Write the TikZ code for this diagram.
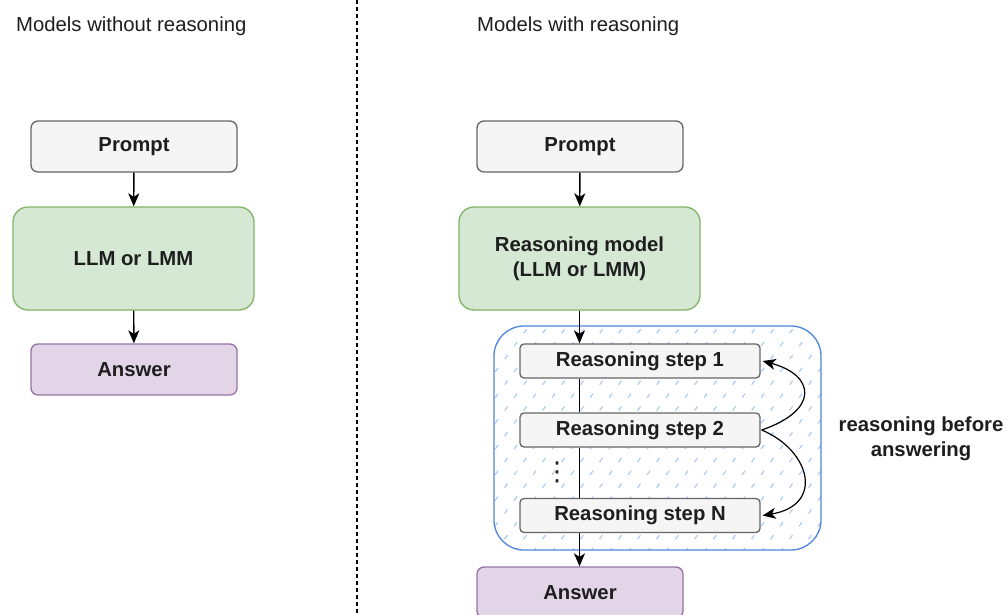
\documentclass[tikz,border=0pt]{standalone}
\usepackage{fontspec}
\setmainfont{Liberation Sans}
\newfontfamily\dejavu{DejaVu Sans}
\usetikzlibrary{arrows.meta}
\definecolor{grayfill}{HTML}{F5F5F5}
\definecolor{graydraw}{HTML}{666666}
\definecolor{greenfill}{HTML}{D5E8D4}
\definecolor{greendraw}{HTML}{82B366}
\definecolor{purplefill}{HTML}{E1D5E7}
\definecolor{purpledraw}{HTML}{9673A6}
\definecolor{bluedraw}{HTML}{4D86DC}
\definecolor{hatchblue}{HTML}{A9C8F2}
\definecolor{txt}{HTML}{1E1E1E}
\tikzset{
  base/.style={font=\fontsize{20.3}{25}\selectfont\bfseries, text=txt, line width=1.3pt, align=center, inner sep=0pt},
  graybox/.style={base, fill=grayfill, draw=graydraw, rounded corners=7pt, minimum width=206pt, minimum height=51pt},
  greenbox/.style={base, fill=greenfill, draw=greendraw, rounded corners=15pt, minimum width=241pt, minimum height=103pt},
  purplebox/.style={base, fill=purplefill, draw=purpledraw, rounded corners=7pt, minimum width=206pt, minimum height=51pt},
  stepbox/.style={base, fill=grayfill, draw=graydraw, rounded corners=4pt, minimum width=240pt, minimum height=34pt},
  title/.style={font=\fontsize{20.3}{25}\selectfont, text=txt, inner sep=0pt, anchor=west},
  conn/.style={line width=1.4pt, black},
  arr/.style={conn, -{Stealth[length=13pt,width=11pt,inset=3.5pt]}},
}
\begin{document}
\begin{tikzpicture}[x=1pt,y=1pt]
\useasboundingbox (0,0) rectangle (1007,-614);
\fill[white] (0,0) rectangle (1007,-614);

% titles
\node[title] (t1) at (16,-26) {Models without reasoning};
\node[title] (t2) at (477,-26) {Models with reasoning};

% divider
\coordinate (dtop) at (357,0);
\coordinate (dbot) at (357,-614);
\draw[line width=1.6pt, dash pattern=on 4pt off 3pt] (dtop) -- (dbot);

% left column
\node[graybox] (lp) at (134,-146.5) {Prompt};
\node[greenbox] (lm) at (133.5,-258.5) {LLM or LMM};
\node[purplebox] (la) at (134,-369.5) {Answer};
\draw[arr] (lp) -- (lm);
\draw[arr] (lm) -- (la);

% right column
\node[graybox] (rp) at (580,-146.5) {Prompt};
\node[greenbox] (rm) at (579.5,-258.5) {Reasoning model\\(LLM or LMM)};
\draw[arr] (rp) -- (rm);

% container with hatch
\begin{scope}
  \clip[rounded corners=30pt] (494,-326) rectangle (821,-550);
  \fill[white] (494,-326) rectangle (821,-550);
  \foreach \i in {0,19,...,600} {
    \draw[hatchblue, line width=1.1pt, dash pattern=on 5pt off 11pt] (494-170+\i,-552) -- (494+\i,-322);
  }
\end{scope}
\node[draw=bluedraw, line width=1.3pt, rounded corners=30pt, minimum width=327pt, minimum height=224pt, inner sep=0pt] (cont) at (657.5,-438) {};

\node[stepbox] (s1) at (640,-361) {Reasoning step 1};
\node[stepbox] (s2) at (640,-430) {Reasoning step 2};
\node[stepbox] (sn) at (640,-515.5) {Reasoning step N};
\node[font=\fontsize{26}{26}\selectfont\dejavu, text=txt, inner sep=0pt] (dots) at (557,-472) {⋮};

\node[purplebox] (ra) at (580,-592.5) {Answer};

\draw[arr] (rm.south) -- (rm.south |- s1.north);
\draw[conn] (rm.south |- s1.south) -- (rm.south |- s2.north);
\draw[conn] (rm.south |- s2.south) -- (rm.south |- sn.north);
\draw[arr] (rm.south |- sn.south) -- (rm.south |- ra.north);

% loop arrows
\draw[arr, line width=1.2pt] ([xshift=1pt]s2.east) .. controls (820,-410) and (815,-375) .. ([xshift=2pt]s1.east);
\draw[arr, line width=1.2pt] ([xshift=1pt]s2.east) .. controls (810,-450) and (825,-505) .. ([xshift=2pt]sn.east);

\node[base, draw=none] (lbl) at (921,-438.5) {reasoning before\\answering};
\end{tikzpicture}
\end{document}
